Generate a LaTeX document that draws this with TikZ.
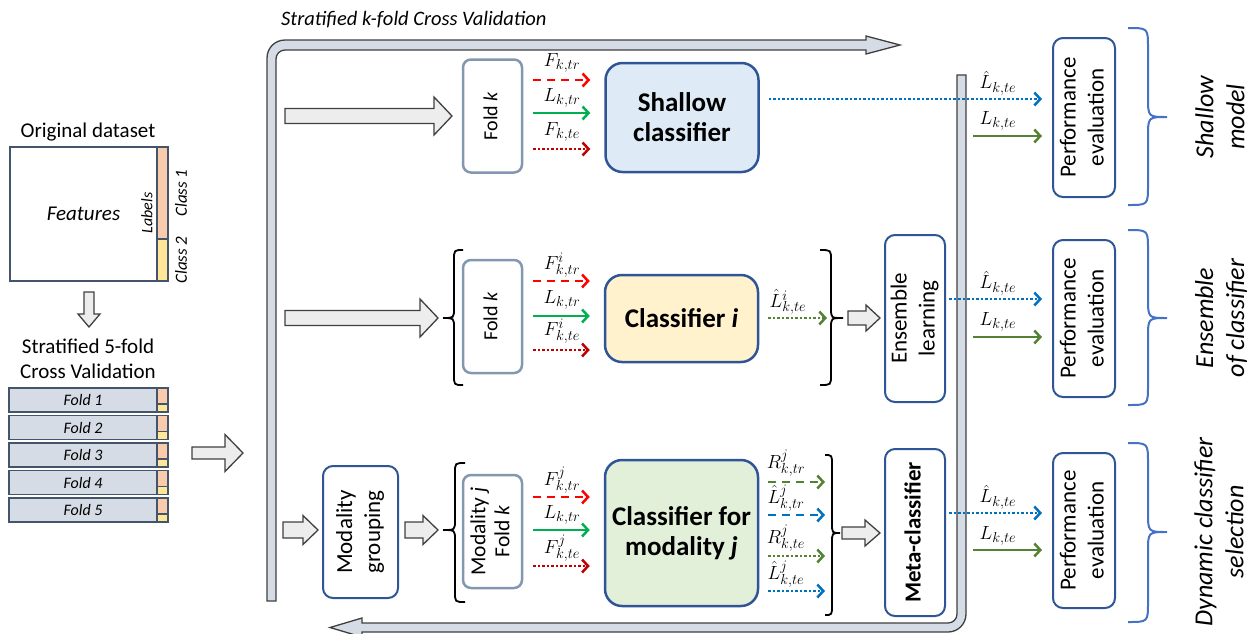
\documentclass[tikz,border=0pt]{standalone}
\usepackage{fix-cm}
\usepackage{fontspec}
\setmainfont{Carlito}
\usepackage{graphicx}
\usetikzlibrary{arrows.meta,calc}
\DeclareMathSizes{19}{19}{14.5}{11}

\definecolor{bandfill}{HTML}{D6DCE5}
\definecolor{bandline}{HTML}{3F3F3F}
\definecolor{arrfill}{HTML}{EDEDED}
\definecolor{arrline}{HTML}{404040}
\definecolor{rowfill}{HTML}{D6DCE5}
\definecolor{rowline}{HTML}{44546A}
\definecolor{classA}{HTML}{F8CBAD}
\definecolor{classB}{HTML}{FFE699}
\definecolor{foldline}{HTML}{8497B0}
\definecolor{dblue}{HTML}{2F5597}
\definecolor{shfill}{HTML}{DEEBF7}
\definecolor{cifill}{HTML}{FFF2CC}
\definecolor{cjfill}{HTML}{E2F0D9}
\definecolor{cred}{HTML}{FF0000}
\definecolor{cdred}{HTML}{C00000}
\definecolor{cgreen}{HTML}{00B050}
\definecolor{colive}{HTML}{548235}
\definecolor{cblue}{HTML}{0070C0}
\definecolor{bracecol}{HTML}{4472C4}

\newcommand\fs[2]{\fontsize{#1}{#2}\selectfont}
\newcommand\rtext[1]{\rotatebox{90}{\begin{tabular}{@{}c@{}}#1\end{tabular}}}
% horizontal block arrow: x0, x1, y, half shaft, half head, head length
\newcommand\blockarr[6]{\draw[blockarrow] (#1,#3-#4) -- (#2-#6,#3-#4) -- (#2-#6,#3-#5) -- (#2,#3) -- (#2-#6,#3+#5) -- (#2-#6,#3+#4) -- (#1,#3+#4) -- cycle;}
% curly brace: style, end x, stem x, tip x, top y, tip y, bottom y, curl
\newcommand\curlybr[8]{\draw[#1] (#2,#5) .. controls (#3,#5) .. (#3,#5+#8) -- (#3,#6-#8) .. controls (#3,#6) .. (#4,#6) .. controls (#3,#6) .. (#3,#6+#8) -- (#3,#7-#8) .. controls (#3,#7) .. (#2,#7);}

\begin{document}
\begin{tikzpicture}[x=1pt,y=-1pt,
  every node/.style={inner sep=0pt},
  blockarrow/.style={draw=arrline, fill=arrfill, line width=1.3pt, line join=miter},
  band/.style={draw=bandline, fill=bandfill, line width=1.3pt},
  foldrow/.style={draw=rowline, fill=rowfill, line width=1.3pt, minimum width=148pt, minimum height=24pt, font=\itshape\fs{16}{18}},
  foldbox/.style={draw=foldline, line width=2.5pt, rounded corners=8pt, fill=white, minimum width=59pt, minimum height=113pt, font=\fs{20}{24}},
  clsbox/.style={draw=dblue, line width=2.5pt, rounded corners=17pt, font=\bfseries\fs{27}{30}, align=center, minimum width=153pt},
  bluebox/.style={draw=dblue, line width=2pt, rounded corners=10pt, fill=white, minimum width=60pt, font=\fs{23}{28}},
  mlab/.style={font=\fs{19}{20}},
  arr/.style={-{Straight Barb[length=6pt,width=13pt]}, line width=2.5pt},
  redD/.style={arr, draw=cred, dash pattern=on 8pt off 6pt},
  grS/.style={arr, draw=cgreen},
  drD/.style={arr, draw=cdred, dash pattern=on 2.5pt off 2pt},
  olS/.style={arr, draw=colive},
  olD/.style={arr, draw=colive, dash pattern=on 2.5pt off 2pt},
  olDa/.style={arr, draw=colive, dash pattern=on 8pt off 6pt},
  blD/.style={arr, draw=cblue, dash pattern=on 2.5pt off 2pt},
  blDa/.style={arr, draw=cblue, dash pattern=on 8pt off 6pt},
  brk/.style={draw=black, line width=1.8pt},
  brb/.style={draw=bracecol, line width=2pt},
  sidelab/.style={rotate=90, font=\itshape\fs{26}{31}, align=center}
]
\useasboundingbox (0,0) rectangle (1250,633);

% ---------------- original dataset ----------------
\node[font=\fs{21}{22}] (origlab) at (88,132) {Original dataset};
\node[draw=rowline, line width=1.5pt, fill=white, minimum width=147pt, minimum height=134pt, font=\itshape\fs{21}{22}] (feat) at (83.5,214) {Features};
\draw[draw=rowline, line width=1.3pt, fill=classA] (157,147) rectangle (168,239);
\draw[draw=rowline, line width=1.3pt, fill=classB] (157,239) rectangle (168,281);
\node[rotate=90, font=\itshape\fs{16}{18}] (lablab) at (147,213) {Labels};
\node[rotate=90, font=\itshape\fs{17}{18}] (c1lab) at (181,193) {Class 1};
\node[rotate=90, font=\itshape\fs{17}{18}] (c2lab) at (181,260) {Class 2};

% split arrow
\draw[blockarrow] (84,292) -- (94,292) -- (94,314) -- (100,314) -- (89,327) -- (78,314) -- (84,314) -- cycle;
\node[font=\fs{21}{25}, align=center] (cvlab) at (88,359) {Stratified 5-fold\\Cross Validation};

% five folds
\foreach \i/\y in {1/400,2/427.5,3/455,4/482.5,5/510}{
  \node[foldrow] (fold\i) at (83,\y) {Fold \i};
  \draw[draw=rowline, line width=1.3pt, fill=classA] (157,\y-12) rectangle (168,\y+4);
  \draw[draw=rowline, line width=1.3pt, fill=classB] (157,\y+4) rectangle (168,\y+12);
}
\blockarr{192}{243}{453}{6}{18.5}{18}

% ---------------- cross-validation loop ----------------
\node[font=\itshape\fs{20.5}{22}, anchor=west] (cvtitle) at (281,20) {Stratified \textit{k}-fold Cross Validation};
\draw[band] (267,601) -- (267,58) .. controls (267,48) and (275,40) .. (285,40) -- (866,40) -- (866,36) -- (900,45) -- (866,54) -- (866,50) -- (285,50) .. controls (280,50) and (276,54) .. (276,59) -- (276,601) -- cycle;
\draw[band] (957,75) -- (966,75) -- (966,614) .. controls (966,624) and (958,632) .. (948,632) -- (362,632) -- (362,637) -- (330,627.5) -- (362,618) -- (362,623) -- (948,623) .. controls (953,623) and (957,619) .. (957,614) -- cycle;

% ---------------- shallow model ----------------
\blockarr{285}{452}{116}{7.5}{19}{18}
\node[foldbox] (foldA) at (492.5,116) {\rtext{Fold \textit{k}}};
\node[clsbox, fill=shfill, minimum height=109pt] (shallow) at (682,117.5) {Shallow\\classifier};
\draw[redD, shorten <=10pt, shorten >=14pt] (foldA.east |- 0,80) -- (shallow.west |- 0,80);
\draw[grS, shorten <=10pt, shorten >=14pt] (foldA.east |- 0,113) -- (shallow.west |- 0,113);
\draw[drD, shorten <=10pt, shorten >=14pt] (foldA.east |- 0,149) -- (shallow.west |- 0,149);
\node[mlab] (a1) at (562,63) {$F_{k,tr}$};
\node[mlab] (a2) at (562,98) {$L_{k,tr}$};
\node[mlab] (a3) at (562,132) {$F_{k,te}$};

% ---------------- ensemble of classifiers ----------------
\blockarr{285}{438}{318}{7.5}{19}{18}
\curlybr{brk}{463}{454}{443}{250}{318}{385}{10}
\node[foldbox] (foldB) at (492.5,316.5) {\rtext{Fold \textit{k}}};
\node[clsbox, fill=cifill, minimum height=87pt] (clsI) at (681.5,318.5) {Classifier \textit{i}};
\draw[redD, shorten <=10pt, shorten >=14pt] (foldB.east |- 0,281) -- (clsI.west |- 0,281);
\draw[grS, shorten <=10pt, shorten >=14pt] (foldB.east |- 0,316) -- (clsI.west |- 0,316);
\draw[drD, shorten <=10pt, shorten >=14pt] (foldB.east |- 0,350) -- (clsI.west |- 0,350);
\node[mlab] (b1) at (562,265) {$F^{i}_{k,tr}$};
\node[mlab] (b2) at (562,300) {$L_{k,tr}$};
\node[mlab] (b3) at (562,331) {$F^{i}_{k,te}$};
\coordinate (iEnd) at (827,318);
\draw[olD, shorten <=9pt] (clsI.east |- iEnd) -- (iEnd);
\node[mlab] (b4) at (788,302) {$\hat{L}^{i}_{k,te}$};
\curlybr{brk}{820}{831}{843}{250}{318}{385}{10}
\blockarr{848}{880}{318}{7}{13}{14}
\node[bluebox, minimum height=167pt] (ens) at (915,318.5) {\rtext{Ensemble\\learning}};

% ---------------- dynamic classifier selection ----------------
\blockarr{283}{318}{530}{8}{14.5}{15}
\node[bluebox, minimum width=75pt, minimum height=132pt] (modg) at (360.5,532) {\rtext{Modality\\grouping}};
\blockarr{405}{438}{530}{8}{14.5}{15}
\curlybr{brk}{465}{455}{443}{463}{530}{602}{10}
\node[foldbox, font=\fs{21.5}{24}] (foldC) at (492.5,531.5) {\rtext{Modality \textit{j}\\Fold \textit{k}}};
\node[clsbox, fill=cjfill, minimum height=146pt] (clsJ) at (681.5,533) {Classifier for\\modality \textit{j}};
\draw[redD, shorten <=10pt, shorten >=14pt] (foldC.east |- 0,497) -- (clsJ.west |- 0,497);
\draw[grS, shorten <=10pt, shorten >=14pt] (foldC.east |- 0,530) -- (clsJ.west |- 0,530);
\draw[drD, shorten <=10pt, shorten >=14pt] (foldC.east |- 0,566) -- (clsJ.west |- 0,566);
\node[mlab] (c1) at (562,480) {$F^{j}_{k,tr}$};
\node[mlab] (c2) at (562,515) {$L_{k,tr}$};
\node[mlab] (c3) at (562,548) {$F^{j}_{k,te}$};
\coordinate (jEnd) at (825,0);
\draw[olDa, shorten <=9pt] (clsJ.east |- 0,482) -- (jEnd |- 0,482);
\draw[blDa, shorten <=9pt] (clsJ.east |- 0,515) -- (jEnd |- 0,515);
\draw[olD, shorten <=9pt] (clsJ.east |- 0,556) -- (jEnd |- 0,556);
\draw[blD, shorten <=9pt] (clsJ.east |- 0,591) -- (jEnd |- 0,591);
\node[mlab] (d1) at (786,463) {$R^{j}_{k,tr}$};
\node[mlab] (d2) at (786,498) {$\hat{L}^{j}_{k,tr}$};
\node[mlab] (d3) at (786,538) {$R^{j}_{k,te}$};
\node[mlab] (d4) at (786,574) {$\hat{L}^{j}_{k,te}$};
\curlybr{brk}{825}{832}{840}{455}{533}{615}{10}
\blockarr{842}{880}{533}{6}{13}{15}
\node[bluebox, minimum height=167pt, font=\bfseries\fs{23}{28}] (meta) at (915,532.5) {\rtext{Meta-classifier}};

% ---------------- performance evaluation ----------------
\node[bluebox, minimum width=62pt, minimum height=159pt] (perf1) at (1084,117.5) {\rtext{Performance\\evaluation}};
\node[bluebox, minimum width=62pt, minimum height=157pt] (perf2) at (1084,318.5) {\rtext{Performance\\evaluation}};
\node[bluebox, minimum width=62pt, minimum height=155pt] (perf3) at (1084,530.5) {\rtext{Performance\\evaluation}};

\draw[blD, shorten <=9pt, shorten >=10pt] (shallow.east |- 0,99) -- (perf1.west |- 0,99);
\draw[blD, shorten <=3pt, shorten >=10pt] (ens.east |- 0,299) -- (perf2.west |- 0,299);
\draw[blD, shorten <=3pt, shorten >=10pt] (meta.east |- 0,513) -- (perf3.west |- 0,513);
\coordinate (g1) at (973,136);
\coordinate (g2) at (973,337);
\coordinate (g3) at (973,550);
\draw[olS, shorten >=10pt] (g1) -- (perf1.west |- g1);
\draw[olS, shorten >=10pt] (g2) -- (perf2.west |- g2);
\draw[olS, shorten >=10pt] (g3) -- (perf3.west |- g3);
\node[mlab] (e1) at (998,83) {$\hat{L}_{k,te}$};
\node[mlab] (e2) at (998,121) {$L_{k,te}$};
\node[mlab] (e3) at (998,283) {$\hat{L}_{k,te}$};
\node[mlab] (e4) at (998,322) {$L_{k,te}$};
\node[mlab] (e5) at (998,497) {$\hat{L}_{k,te}$};
\node[mlab] (e6) at (998,536) {$L_{k,te}$};

\curlybr{brb}{1128}{1148}{1167}{28}{117}{205}{20}
\curlybr{brb}{1128}{1148}{1167}{230}{318}{405}{20}
\curlybr{brb}{1128}{1148}{1167}{443}{532}{622}{20}
\node[sidelab] (s1) at (1220,117) {Shallow\\model};
\node[sidelab] (s2) at (1221,318) {Ensemble\\of classifier};
\node[sidelab] (s3) at (1219,532) {Dynamic classifier\\selection};
\end{tikzpicture}
\end{document}
